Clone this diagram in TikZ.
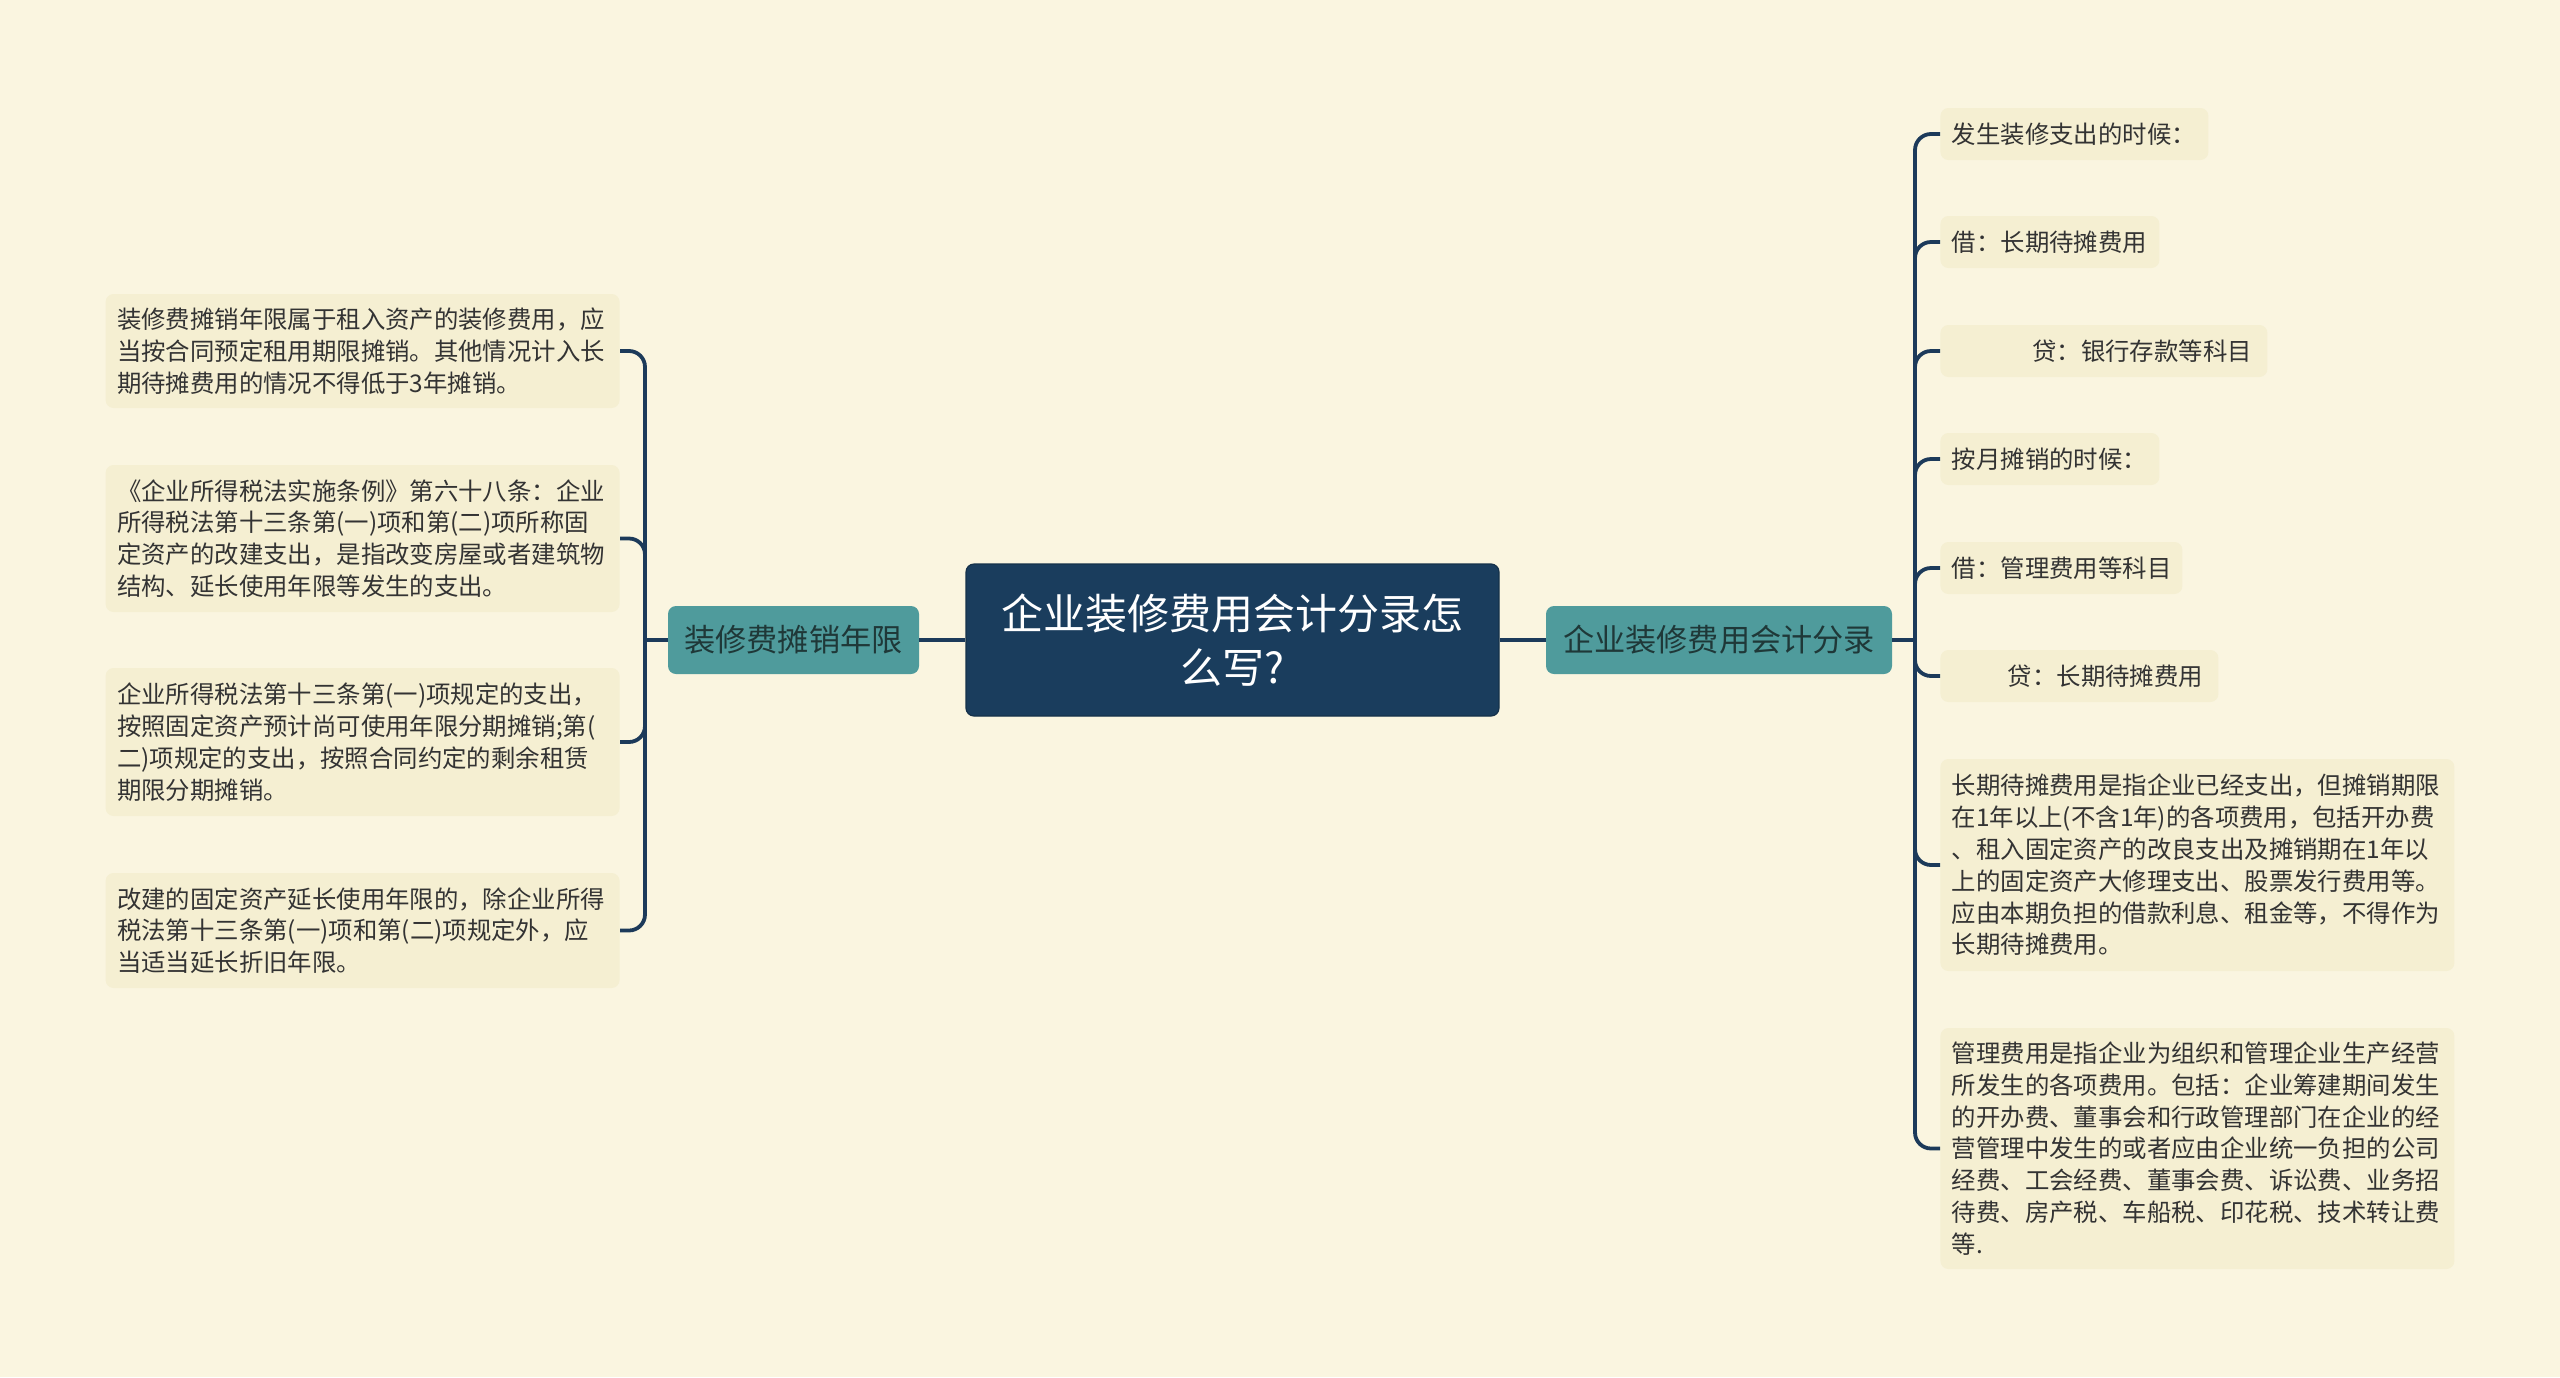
\documentclass[tikz,border=0pt]{standalone}
\usepackage{fontspec}
\setmainfont{Noto Sans CJK SC}
\definecolor{bgcol}{HTML}{FAF5E0}
\definecolor{leaffill}{HTML}{F5EFD2}
\definecolor{leaftext}{HTML}{333333}
\definecolor{centfill}{HTML}{1A3D5D}
\definecolor{branchfill}{HTML}{4F9B9C}
\definecolor{branchtext}{HTML}{1F3838}
\definecolor{linecol}{HTML}{1C3A5A}
\newcommand{\leaffont}{\fontsize{12.2}{15.9}\selectfont}
\tikzset{
  x=0.5pt, y=-0.5pt,
  leaf/.style={fill=leaffill, rounded corners=4pt, text=leaftext, font=\leaffont,
    align=left, inner xsep=5.7pt, inner ysep=0pt},
  branchbox/.style={fill=branchfill, rounded corners=4pt, text=branchtext,
    font=\fontsize{15.6}{19}\selectfont, inner sep=0pt, minimum height=34pt},
  centbox/.style={fill=centfill, draw=centfill!80!black, line width=0.6pt, rounded corners=4pt, text=white,
    font=\fontsize{21}{27}\selectfont, align=center, inner sep=0pt},
  conn/.style={draw=linecol, line width=1.9pt},
  bconn/.style={draw=linecol, line width=1.9pt, rounded corners=8pt}
}
\begin{document}
\begin{tikzpicture}
\useasboundingbox (0,0) rectangle (2560,1377);
\fill[bgcol] (0,0) rectangle (2560,1377);

% central and branches
\node[centbox, minimum width=266.5pt, minimum height=76pt] (c) at (1232.5,640) {企业装修费用会计分录怎\\么写?};
\node[branchbox, minimum width=125.5pt] (lb) at (793.5,640) {装修费摊销年限};
\node[branchbox, minimum width=173pt] (rb) at (1719,640) {企业装修费用会计分录};

\coordinate (LJ) at (645,640);
\coordinate (RJ) at (1915,640);

% left leaves
\node[leaf, anchor=east, text width=245.6pt, minimum height=57pt] (L1) at (620,351)
 {装修费摊销年限属于租入资产的装修费用，应\\当按合同预定租用期限摊销。其他情况计入长\\期待摊费用的情况不得低于3年摊销。};
\node[leaf, anchor=east, text width=245.6pt, minimum height=73.5pt] (L2) at (620,538.5)
 {《企业所得税法实施条例》第六十八条：企业\\所得税法第十三条第(一)项和第(二)项所称固\\定资产的改建支出，是指改变房屋或者建筑物\\结构、延长使用年限等发生的支出。};
\node[leaf, anchor=east, text width=245.6pt, minimum height=74pt] (L3) at (620,742)
 {企业所得税法第十三条第(一)项规定的支出，\\按照固定资产预计尚可使用年限分期摊销;第(\\二)项规定的支出，按照合同约定的剩余租赁\\期限分期摊销。};
\node[leaf, anchor=east, text width=245.6pt, minimum height=57.5pt] (L4) at (620,930.5)
 {改建的固定资产延长使用年限的，除企业所得\\税法第十三条第(一)项和第(二)项规定外，应\\当适当延长折旧年限。};

% right leaves
\node[leaf, anchor=west, text width=122.6pt, minimum height=26pt] (R1) at (1940,134) {发生装修支出的时候：};
\node[leaf, anchor=west, text width=98.1pt, minimum height=26pt] (R2) at (1940,242) {借：长期待摊费用};
\node[leaf, anchor=west, text width=152.1pt, minimum height=26pt] (R3) at (1940,351) {\hspace*{3.3em}贷：银行存款等科目};
\node[leaf, anchor=west, text width=98.1pt, minimum height=26pt] (R4) at (1940,459) {按月摊销的时候：};
\node[leaf, anchor=west, text width=109.6pt, minimum height=26pt] (R5) at (1940,568) {借：管理费用等科目};
\node[leaf, anchor=west, text width=127.6pt, minimum height=26pt] (R6) at (1940,676) {\hspace*{2.3em}贷：长期待摊费用};
\node[leaf, anchor=west, text width=245.6pt, minimum height=106pt] (R7) at (1940,865)
 {长期待摊费用是指企业已经支出，但摊销期限\\在1年以上(不含1年)的各项费用，包括开办费\\、租入固定资产的改良支出及摊销期在1年以\\上的固定资产大修理支出、股票发行费用等。\\应由本期负担的借款利息、租金等，不得作为\\长期待摊费用。};
\node[leaf, anchor=west, text width=245.6pt, minimum height=120.5pt] (R8) at (1940,1148.5)
 {管理费用是指企业为组织和管理企业生产经营\\所发生的各项费用。包括：企业筹建期间发生\\的开办费、董事会和行政管理部门在企业的经\\营管理中发生的或者应由企业统一负担的公司\\经费、工会经费、董事会费、诉讼费、业务招\\待费、房产税、车船税、印花税、技术转让费\\等.};

% connectors
\draw[conn] (c.west) -- (lb.east);
\draw[conn] (c.east) -- (rb.west);
\draw[conn] (lb.west) -- (LJ);
\draw[conn] (rb.east) -- (RJ);
\foreach \n in {L1,L2,L3,L4} \draw[bconn] (LJ) |- (\n.east);
\foreach \n in {R1,R2,R3,R4,R5,R6,R7,R8} \draw[bconn] (RJ) |- (\n.west);
\end{tikzpicture}
\end{document}
